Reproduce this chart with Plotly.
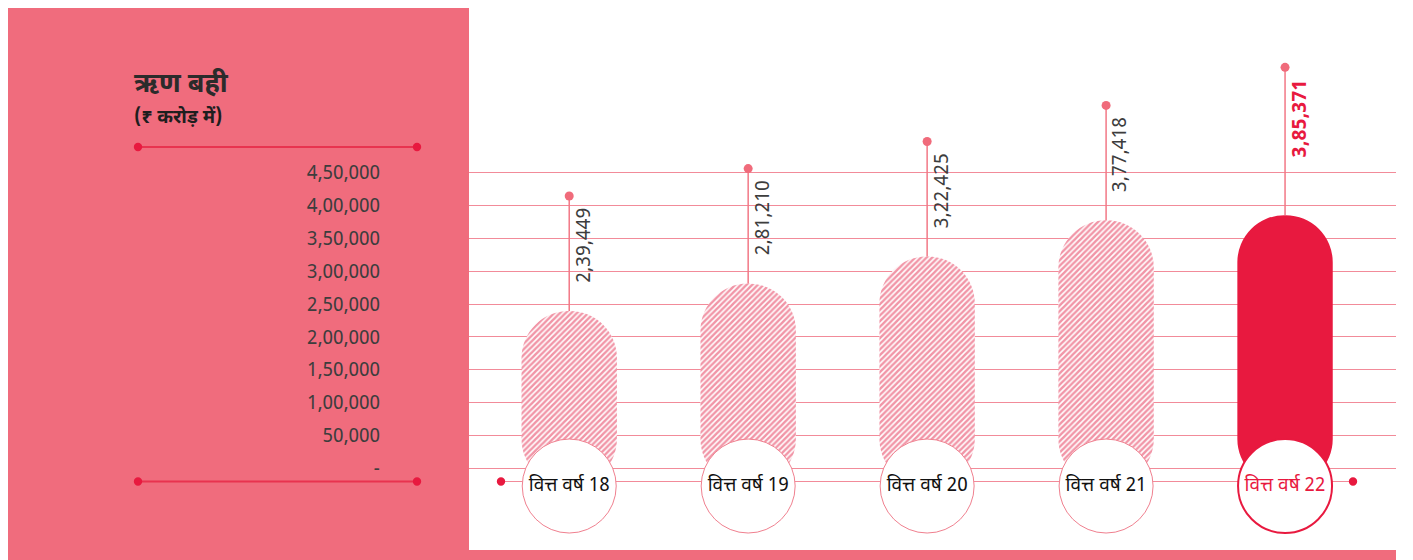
import plotly.graph_objects as go

# data
years = ["वित्त वर्ष 18", "वित्त वर्ष 19", "वित्त वर्ष 20", "वित्त वर्ष 21", "वित्त वर्ष 22"]
debt = [239449, 281210, 322425, 377418, 385371]
tick_vals = [0, 50000, 100000, 150000, 200000, 250000, 300000, 350000, 400000, 450000]
tick_text = ["-", "50,000", "1,00,000", "1,50,000", "2,00,000", "2,50,000",
             "3,00,000", "3,50,000", "4,00,000", "4,50,000"]
title = "ऋण बही"
subtitle = "(₹ करोड़ में)"

# styling
OFF = 8               # page margin of the html body
W, H = 1413 - OFF, 560 - OFF
PINK = "#f06c7d"
RED = "#e8193f"
GRID = "#f28b99"
TXT = "#3d3d3d"
FONT = "Noto Sans Devanagari, Noto Sans, Open Sans, sans-serif"
LABEL_Y = -27000      # level of the year circles
STEM = 175000         # stem length above bar
STEM_HL = 225000
HL = len(years) - 1   # highlighted year
BAR_W = 0.533


def px(x):
    return (x - OFF) / W


def py(y):
    return 1 - (y - OFF) / H


def fmt_inr(n):
    s = str(n)
    head, tail = s[:-3], s[-3:]
    parts = []
    while len(head) > 2:
        parts.insert(0, head[-2:])
        head = head[:-2]
    if head:
        parts.insert(0, head)
    return ",".join(parts + [tail])


is_hl = [i == HL for i in range(len(years))]

fig = go.Figure()

# hatched bars (past years)
fig.add_trace(go.Bar(
    x=[c for c, h in zip(years, is_hl) if not h],
    y=[v - LABEL_Y for v, h in zip(debt, is_hl) if not h],
    base=LABEL_Y,
    width=BAR_W,
    marker=dict(
        color="white",
        line=dict(width=0),
        cornerradius="50%",
        pattern=dict(shape="/", fgcolor="#e42c4f", bgcolor="white",
                     size=4, solidity=0.62),
    ),
    hoverinfo="skip",
))
# solid bar (latest year)
fig.add_trace(go.Bar(
    x=[c for c, h in zip(years, is_hl) if h],
    y=[v - LABEL_Y for v, h in zip(debt, is_hl) if h],
    base=LABEL_Y,
    width=BAR_W,
    marker=dict(color=RED, line=dict(width=0), cornerradius="50%"),
    hoverinfo="skip",
))

# stems with dots
stem_top = [v + (STEM_HL if h else STEM) for v, h in zip(debt, is_hl)]
sx, sy = [], []
for c, v, t in zip(years, debt, stem_top):
    sx += [c, c, None]
    sy += [v, t, None]
fig.add_trace(go.Scatter(x=sx, y=sy, mode="lines",
                         line=dict(color="#f27886", width=1.5), hoverinfo="skip"))
fig.add_trace(go.Scatter(x=years, y=stem_top, mode="markers",
                         marker=dict(color="#f06b7b", size=9), hoverinfo="skip"))

# year circles
fig.add_trace(go.Scatter(
    x=years,
    y=[LABEL_Y] * len(years),
    mode="markers+text",
    text=years,
    textposition="middle center",
    textfont=dict(size=19, family=FONT, color=[RED if h else "#111111" for h in is_hl]),
    marker=dict(size=94, color="white",
                line=dict(color=[RED if h else "#f0808f" for h in is_hl],
                          width=[2 if h else 1 for h in is_hl])),
    hoverinfo="skip",
))

# value labels
for c, v, t, h in zip(years, debt, stem_top, is_hl):
    fig.add_annotation(
        x=c, y=t, xref="x", yref="y",
        text=f"<b>{fmt_inr(v)}</b>" if h else fmt_inr(v),
        textangle=-90, showarrow=False,
        xanchor="center", yanchor="top", xshift=16, yshift=-10,
        font=dict(size=19.5, family=FONT, color=RED if h else TXT),
    )

shapes = [
    # left panel
    dict(type="rect", xref="paper", yref="paper", x0=px(3), x1=px(469),
         y0=py(562), y1=py(7), fillcolor=PINK, line_width=0, layer="below"),
    # bottom band
    dict(type="rect", xref="paper", yref="paper", x0=px(469), x1=px(1396),
         y0=py(562), y1=py(550), fillcolor=PINK, line_width=0, layer="below"),
    # panel rules
    dict(type="line", xref="paper", yref="paper", x0=px(138), x1=px(417),
         y0=py(147), y1=py(147), line=dict(color="#e8334f", width=2)),
    dict(type="line", xref="paper", yref="paper", x0=px(138), x1=px(417),
         y0=py(481.5), y1=py(481.5), line=dict(color="#e8334f", width=2)),
    # baseline under circles
    dict(type="line", xref="paper", yref="paper", x0=px(501), x1=px(1353),
         y0=py(481.5), y1=py(481.5), line=dict(color=GRID, width=1.2), layer="below"),
]
for cx, cy in [(138, 147), (417, 147), (138, 481.5), (417, 481.5), (501, 481.5), (1353, 481.5)]:
    shapes.append(dict(type="circle", xref="paper", yref="paper",
                       x0=px(cx - 4.2), x1=px(cx + 4.2), y0=py(cy + 4.2), y1=py(cy - 4.2),
                       fillcolor=RED, line_width=0))

fig.add_annotation(x=px(132), y=py(85), xref="paper", yref="paper", text=f"<b>{title}</b>",
                   showarrow=False, xanchor="left", yanchor="middle",
                   font=dict(size=27, family=FONT, color="#2b2b2b"))
fig.add_annotation(x=px(132), y=py(118), xref="paper", yref="paper", text=f"<b>{subtitle}</b>",
                   showarrow=False, xanchor="left", yanchor="middle",
                   font=dict(size=19, family=FONT, color="#1e1e1e"))

fig.update_layout(
    width=W, height=H,
    margin=dict(l=0, r=0, t=0, b=0),
    paper_bgcolor="white",
    plot_bgcolor="rgba(0,0,0,0)",
    showlegend=False,
    shapes=shapes,
    barmode="overlay",
    xaxis=dict(domain=[px(469), px(1396)], range=[-0.56, 4.62], visible=False,
               categoryorder="array", categoryarray=years),
    yaxis=dict(
        domain=[0, 1], range=[-139600, 700700],
        tickvals=tick_vals, ticktext=tick_text,
        ticklabelstandoff=88, ticks="",
        showline=False, zeroline=False,
        gridcolor=GRID, gridwidth=1,
        tickfont=dict(size=19, family=FONT, color=TXT),
    ),
)

fig.write_html("out.html")
